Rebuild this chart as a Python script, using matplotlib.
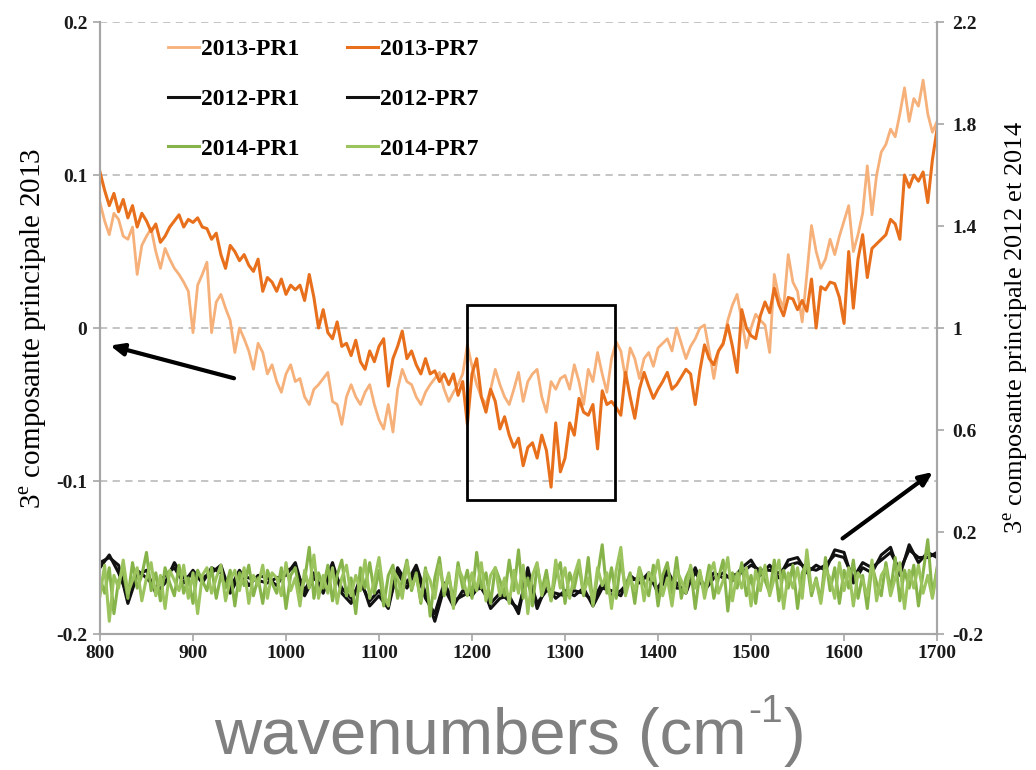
import numpy as np
import matplotlib
matplotlib.use("Agg")
import matplotlib.pyplot as plt
from matplotlib.patches import Rectangle

# Polices : serif type Times pour les axes, sans pour le titre de l'axe x
plt.rcParams['font.family'] = ['Liberation Serif', 'DejaVu Serif']
plt.rcParams['mathtext.fontset'] = 'custom'
plt.rcParams['mathtext.rm'] = 'Liberation Serif'

# Nombres d'onde (cm-1)
wn_fin = np.arange(800, 1701, 5)
wn_large = np.arange(800, 1701, 10)

# 3e composante principale 2013 (axe de gauche), pas de 5 cm-1
pr1_2013 = [
    0.082, 0.070, 0.061, 0.075, 0.071, 0.060, 0.058, 0.066, 0.035, 0.054,
    0.060, 0.065, 0.050, 0.039, 0.052, 0.045, 0.039, 0.035, 0.030, 0.024,
    -0.003, 0.028, 0.035, 0.043, -0.003, 0.017, 0.022, 0.013, 0.005, -0.016,
    0.000, -0.007, -0.015, -0.027, -0.010, -0.016, -0.030, -0.024, -0.035, -0.042,
    -0.030, -0.024, -0.035, -0.033, -0.045, -0.050, -0.040, -0.037, -0.033, -0.029,
    -0.048, -0.050, -0.063, -0.045, -0.037, -0.045, -0.050, -0.042, -0.037, -0.050,
    -0.060, -0.066, -0.050, -0.068, -0.040, -0.027, -0.035, -0.037, -0.045, -0.050,
    -0.042, -0.037, -0.033, -0.029, -0.040, -0.048, -0.042, -0.037, -0.030, -0.011,
    -0.025, -0.037, -0.045, -0.050, -0.040, -0.027, -0.037, -0.045, -0.050, -0.040,
    -0.029, -0.048, -0.035, -0.030, -0.027, -0.045, -0.055, -0.035, -0.040, -0.033,
    -0.031, -0.040, -0.024, -0.035, -0.050, -0.027, -0.035, -0.016, -0.030, -0.042,
    -0.020, -0.009, -0.015, -0.033, -0.013, -0.020, -0.033, -0.020, -0.016, -0.025,
    -0.013, -0.010, -0.007, -0.015, 0.000, -0.010, -0.020, -0.012, -0.007, 0.000,
    0.002, -0.015, -0.033, -0.015, -0.011, 0.005, 0.015, 0.022, 0.005, -0.013,
    0.000, 0.009, 0.005, 0.002, -0.016, 0.035, 0.020, 0.013, 0.048, 0.030,
    0.024, 0.004, 0.035, 0.067, 0.050, 0.039, 0.045, 0.058, 0.048, 0.060,
    0.070, 0.080, 0.050, 0.061, 0.075, 0.106, 0.074, 0.100, 0.115, 0.120,
    0.130, 0.125, 0.140, 0.157, 0.135, 0.150, 0.145, 0.162, 0.140, 0.128,
    0.135,
]
pr7_2013 = [
    0.102, 0.090, 0.080, 0.088, 0.076, 0.084, 0.072, 0.080, 0.066, 0.075,
    0.070, 0.063, 0.068, 0.056, 0.060, 0.066, 0.070, 0.074, 0.066, 0.071,
    0.069, 0.072, 0.066, 0.065, 0.058, 0.062, 0.048, 0.039, 0.054, 0.050,
    0.044, 0.048, 0.041, 0.037, 0.045, 0.024, 0.033, 0.030, 0.024, 0.032,
    0.022, 0.028, 0.025, 0.028, 0.018, 0.035, 0.020, 0.000, 0.012, -0.003,
    -0.007, 0.004, -0.012, -0.010, -0.018, -0.008, -0.022, -0.027, -0.015, -0.022,
    -0.012, -0.007, -0.038, -0.020, -0.012, -0.002, -0.020, -0.015, -0.024, -0.030,
    -0.020, -0.030, -0.028, -0.035, -0.030, -0.037, -0.030, -0.044, -0.035, -0.063,
    -0.030, -0.020, -0.045, -0.055, -0.040, -0.048, -0.066, -0.058, -0.070, -0.078,
    -0.072, -0.090, -0.078, -0.075, -0.085, -0.070, -0.080, -0.104, -0.062, -0.094,
    -0.085, -0.062, -0.070, -0.046, -0.055, -0.057, -0.050, -0.079, -0.041, -0.050,
    -0.048, -0.052, -0.057, -0.029, -0.045, -0.059, -0.040, -0.029, -0.038, -0.046,
    -0.040, -0.035, -0.029, -0.040, -0.037, -0.032, -0.027, -0.030, -0.050, -0.028,
    -0.011, -0.020, -0.024, -0.015, -0.010, 0.002, -0.012, -0.029, 0.012, 0.000,
    -0.005, -0.007, 0.008, 0.017, 0.010, 0.026, 0.015, 0.008, 0.020, 0.019,
    0.012, 0.018, 0.011, 0.032, 0.000, 0.027, 0.025, 0.030, 0.029, 0.020,
    0.003, 0.050, 0.013, 0.045, 0.061, 0.033, 0.052, 0.055, 0.058, 0.061,
    0.071, 0.068, 0.058, 0.100, 0.092, 0.100, 0.096, 0.102, 0.082, 0.110,
    0.130,
]

# 3e composante principale 2012 (axe de droite), pas de 10 cm-1
pr1_2012 = [
    0.08, 0.10, 0.07, -0.08, 0.03, 0.05, -0.04, 0.00, 0.08, 0.02,
    0.03, 0.02, 0.04, 0.07, -0.04, 0.03, 0.02, 0.01, 0.00, 0.02,
    0.03, 0.08, -0.05, 0.02, -0.02, 0.08, -0.04, -0.08, 0.02, -0.09,
    -0.05, -0.10, 0.06, 0.00, 0.07, -0.04, -0.15, -0.02, -0.09, -0.03,
    -0.05, 0.00, -0.10, -0.06, -0.05, -0.12, 0.06, -0.10, -0.01, -0.06,
    -0.03, -0.05, -0.02, -0.09, -0.02, -0.03, -0.05, 0.03, 0.00, 0.04,
    -0.04, 0.03, 0.00, -0.04, 0.06, -0.03, 0.02, 0.04, 0.01, 0.06,
    0.09, 0.03, 0.07, 0.02, 0.09, 0.10, 0.04, 0.07, 0.05, 0.13,
    0.12, 0.00, 0.06, 0.04, 0.11, 0.14, 0.03, 0.15, 0.08, 0.12,
    0.10,
]
pr7_2012 = [
    0.06, 0.11, 0.04, -0.05, 0.05, 0.02, -0.02, 0.03, 0.06, 0.00,
    0.05, 0.00, 0.06, 0.04, -0.02, 0.05, -0.01, 0.03, 0.02, -0.01,
    0.05, 0.06, -0.03, 0.04, -0.04, 0.06, -0.02, -0.06, 0.00, -0.07,
    -0.03, -0.08, 0.04, -0.02, 0.05, -0.06, -0.12, 0.00, -0.07, -0.05,
    -0.03, -0.02, -0.08, -0.04, -0.07, -0.10, 0.04, -0.08, -0.03, -0.04,
    -0.05, -0.03, -0.04, -0.07, 0.00, -0.05, -0.03, 0.01, 0.02, 0.02,
    -0.02, 0.05, -0.02, -0.02, 0.04, -0.01, 0.04, 0.02, 0.03, 0.04,
    0.07, 0.05, 0.05, 0.04, 0.07, 0.08, 0.06, 0.05, 0.07, 0.11,
    0.10, 0.02, 0.08, 0.06, 0.09, 0.12, 0.05, 0.13, 0.10, 0.10,
    0.12,
]

# 3e composante principale 2014 (axe de droite), pas de 5 cm-1
pr1_2014 = [
    0.02, -0.04, 0.06, -0.12, 0.01, 0.05, -0.06, 0.08, -0.02, 0.03,
    0.12, -0.03, 0.04, -0.07, 0.06, 0.00, -0.05, 0.07, -0.04, 0.02,
    -0.08, 0.05, 0.01, -0.03, 0.06, -0.06, 0.03, -0.02, 0.05, -0.09,
    0.04, -0.01, 0.07, -0.05, 0.02, -0.08, 0.05, 0.00, -0.04, 0.06,
    -0.10, 0.03, 0.06, -0.04, 0.01, 0.14, -0.06, 0.04, -0.02, 0.07,
    -0.07, 0.03, 0.09, -0.05, 0.02, -0.12, 0.06, -0.02, 0.08, -0.04,
    0.05, -0.09, 0.03, 0.07, -0.06, 0.01, 0.09, -0.03, 0.04, -0.08,
    0.06, -0.13, 0.02, 0.10, -0.05, 0.03, -0.07, 0.08, -0.02, 0.05,
    -0.06, 0.12, -0.02, 0.04, -0.08, 0.06, 0.01, -0.05, 0.09, -0.03,
    0.13, -0.06, 0.02, -0.09, 0.07, -0.03, 0.05, -0.07, 0.03, 0.08,
    -0.08, 0.04, -0.02, 0.07, -0.05, 0.10, -0.09, 0.03, 0.15, -0.04,
    0.06, -0.06, 0.09, -0.02, 0.04, -0.08, 0.06, 0.00, -0.05, 0.07,
    -0.09, 0.03, 0.08, -0.04, 0.10, -0.06, 0.02, 0.06, -0.10, 0.04,
    -0.03, 0.07, -0.06, 0.02, 0.09, -0.11, 0.04, -0.02, 0.08, -0.05,
    0.03, -0.08, 0.06, 0.01, -0.04, 0.09, -0.07, 0.05, -0.02, 0.07,
    -0.10, 0.04, 0.08, -0.05, 0.02, -0.07, 0.10, -0.03, 0.06, -0.08,
    0.05, -0.02, 0.09, -0.06, 0.03, -0.10, 0.07, 0.00, -0.05, 0.08,
    -0.03, 0.10, -0.07, 0.05, -0.02, 0.07, -0.09, 0.04, 0.17, -0.05,
    0.06,
]
pr7_2014 = [
    -0.05, 0.07, -0.15, 0.03, -0.02, 0.09, -0.04, 0.01, 0.06, -0.07,
    0.02, 0.08, -0.05, 0.03, -0.10, 0.05, 0.01, -0.03, 0.07, -0.06,
    0.04, -0.12, 0.03, 0.06, -0.04, 0.02, 0.07, -0.07, 0.01, 0.05,
    -0.03, 0.06, -0.08, 0.03, -0.01, 0.07, -0.06, 0.04, 0.02, -0.05,
    0.08, -0.03, 0.02, -0.09, 0.05, -0.02, 0.11, -0.06, 0.03, -0.04,
    0.06, -0.08, 0.02, 0.07, -0.05, 0.03, -0.03, 0.09, -0.06, 0.01,
    0.10, -0.04, -0.09, 0.05, 0.02, -0.06, 0.08, -0.02, 0.03, -0.07,
    0.05, 0.01, -0.06, 0.07, -0.03, 0.04, -0.10, 0.06, 0.02, -0.05,
    0.04, -0.03, 0.08, -0.07, 0.03, 0.06, -0.05, 0.02, -0.08, 0.05,
    -0.04, 0.07, -0.12, 0.03, 0.08, -0.05, 0.01, -0.07, 0.09, -0.02,
    0.06, -0.06, 0.03, 0.09, -0.04, 0.02, -0.08, 0.06, -0.01, 0.04,
    -0.10, 0.05, 0.14, -0.05, 0.02, -0.03, 0.06, -0.07, 0.04, 0.01,
    0.09, -0.05, 0.02, -0.09, 0.05, 0.01, -0.04, 0.07, -0.02, 0.05,
    -0.06, 0.03, 0.08, -0.04, 0.01, 0.10, -0.07, 0.04, -0.02, 0.06,
    -0.09, 0.05, -0.03, 0.07, -0.05, 0.02, 0.09, -0.10, 0.04, -0.02,
    0.06, -0.06, 0.13, -0.03, 0.01, -0.08, 0.05, 0.02, -0.06, 0.08,
    -0.03, 0.06, -0.09, 0.04, 0.01, -0.05, 0.09, -0.07, 0.03, 0.06,
    -0.05, 0.02, 0.08, -0.10, 0.05, -0.02, 0.07, -0.04, 0.03, -0.06,
    0.05,
]

left_ticks = [-0.2, -0.1, 0, 0.1, 0.2]
left_labels = ["-0.2", "-0.1", "0", "0.1", "0.2"]
right_ticks = [-0.2, 0.2, 0.6, 1.0, 1.4, 1.8, 2.2]
right_labels = ["-0.2", "0.2", "0.6", "1", "1.4", "1.8", "2.2"]
x_ticks = list(range(800, 1701, 100))

ORANGE_CLAIR = "#F6B07A"
ORANGE = "#E8701C"
NOIR = "#111111"
VERT1 = "#86B44A"
VERT2 = "#9CC45E"
GRIS = "#A6A6A6"

fig = plt.figure(figsize=(10.36, 7.70), dpi=100)
ax = fig.add_axes([0.0965, 0.1766, 0.808, 0.7948])
ax2 = ax.twinx()

# Courbes 2013 sur l'axe de gauche
l1, = ax.plot(wn_fin, pr1_2013, color=ORANGE_CLAIR, lw=2.0, label="2013-PR1", zorder=3)
l2, = ax.plot(wn_fin, pr7_2013, color=ORANGE, lw=2.2, label="2013-PR7", zorder=4)

# Courbes 2012 et 2014 sur l'axe de droite
l3, = ax2.plot(wn_large, pr1_2012, color=NOIR, lw=2.2, label="2012-PR1")
l4, = ax2.plot(wn_large, pr7_2012, color=NOIR, lw=2.2, label="2012-PR7")
l5, = ax2.plot(wn_fin, pr1_2014, color=VERT1, lw=2.2, label="2014-PR1")
l6, = ax2.plot(wn_fin, pr7_2014, color=VERT2, lw=2.2, label="2014-PR7")

ax.set_xlim(800, 1700)
ax.set_ylim(-0.2, 0.2)
ax2.set_ylim(-0.2, 2.2)

ax.set_xticks(x_ticks)
ax.set_xticklabels([str(t) for t in x_ticks])
ax.set_yticks(left_ticks)
ax.set_yticklabels(left_labels)
ax2.set_yticks(right_ticks)
ax2.set_yticklabels(right_labels)

# Grille pointillée sur les graduations de gauche
for t in [-0.1, 0, 0.1, 0.2]:
    ax.axhline(t, color="#BFBFBF", lw=1.3, ls=(0, (4, 3)), zorder=1)

for a in (ax, ax2):
    a.spines['top'].set_visible(False)
    for s in ('left', 'right', 'bottom'):
        a.spines[s].set_color(GRIS)
        a.spines[s].set_linewidth(1.5)
    a.tick_params(axis='both', colors=GRIS, length=5, width=1.2, direction='out',
                  labelcolor="#1a1a1a", labelsize=14)
    for lab in a.get_xticklabels() + a.get_yticklabels():
        lab.set_fontweight('bold')
ax.tick_params(axis='x', pad=3)
ax.tick_params(axis='y', pad=4)
ax2.tick_params(axis='y', pad=6)

ax.set_ylabel(r"3$^{\mathrm{e}}$ composante principale 2013", fontsize=21, labelpad=5)
ax2.set_ylabel(r"3$^{\mathrm{e}}$ composante principale 2012 et 2014", fontsize=19, labelpad=13)

# Titre de l'axe x, gris, grande police sans empattement (exposant avec un tiret court)
fam_sans = ["Liberation Sans", "DejaVu Sans"]
t_main = fig.text(0.207, 0.043, "wavenumbers (cm", ha="left", va="center",
                  fontsize=47, color="#808080", family=fam_sans)
fig.canvas.draw()
bb = t_main.get_window_extent()
t_sup = fig.text(bb.x1 / fig.bbox.width + 0.001, 0.075, "-1", ha="left", va="center",
                 fontsize=28, color="#808080", family=fam_sans)
fig.canvas.draw()
bb2 = t_sup.get_window_extent()
fig.text(bb2.x1 / fig.bbox.width + 0.001, 0.043, ")", ha="left", va="center",
         fontsize=47, color="#808080", family=fam_sans)

# Cadre autour de la zone 1195-1354 cm-1
ax.add_patch(Rectangle((1194.6, -0.1124), 159.2, 0.1274, fill=False, ec="black", lw=2.0, zorder=5))

# Flèches indiquant l'axe de chaque groupe
ax.annotate("", xy=(808, -0.011), xytext=(947, -0.0333),
            arrowprops=dict(arrowstyle="-|>,head_length=0.8,head_width=0.35", color="black", lw=3))
ax.annotate("", xy=(1698, -0.093), xytext=(1596, -0.1386),
            arrowprops=dict(arrowstyle="-|>,head_length=0.8,head_width=0.35", color="black", lw=3))

# Légende 3 lignes x 2 colonnes
leg = ax.legend(handles=[l1, l3, l5, l2, l4, l6], ncol=2, loc="upper left",
                bbox_to_anchor=(0.056, 1.008), frameon=False, handlelength=1.3,
                handletextpad=0.1, columnspacing=2.0, labelspacing=1.2,
                prop={'weight': 'bold', 'size': 17, 'family': 'Liberation Serif'})

fig.savefig("out.png", dpi=100)
